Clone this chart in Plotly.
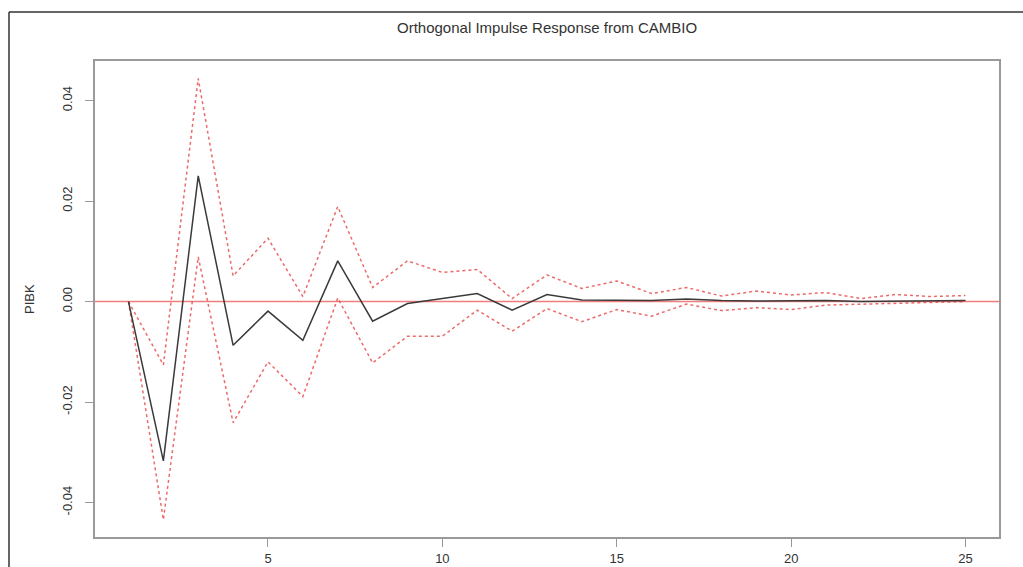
import plotly.graph_objects as go

# ---- data ----
horizon = list(range(1, 26))
irf = [0.0, -0.0317, 0.0250, -0.0087, -0.0019, -0.0077, 0.0081, -0.0039, -0.0004, 0.0006,
       0.0016, -0.0017, 0.0014, 0.0003, 0.0003, 0.0002, 0.0005, 0.0002, 0.0001, 0.0001,
       0.0002, 0.0000, 0.0001, 0.0001, 0.0002]
upper = [0.0, -0.0126, 0.0444, 0.0051, 0.0126, 0.0010, 0.0189, 0.0028, 0.0081, 0.0058,
         0.0064, 0.0006, 0.0053, 0.0026, 0.0041, 0.0016, 0.0028, 0.0011, 0.0021, 0.0013,
         0.0018, 0.0006, 0.0014, 0.0010, 0.0012]
lower = [0.0, -0.0434, 0.0089, -0.0241, -0.0120, -0.0189, 0.0007, -0.0122, -0.0069, -0.0069,
         -0.0017, -0.0059, -0.0014, -0.0040, -0.0016, -0.0029, -0.0005, -0.0018, -0.0012, -0.0016,
         -0.0007, -0.0005, -0.0004, -0.0002, 0.0000]
x_ticks = [5, 10, 15, 20, 25]
y_ticks = [-0.04, -0.02, 0.0, 0.02, 0.04]
y_ticktext = ["-0.04", "-0.02", "0.00", "0.02", "0.04"]
title_text = "Orthogonal Impulse Response from CAMBIO"
y_label = "PIBK"

W, H = 1023, 567
L, R, T, B = 95, 24, 61, 30
pw = W - L - R
PB = H - B          # pixel row of the bottom axis (537)
ph = PB - T

def px_x(p):
    return (p - L) / pw

def px_y(p):
    return (PB - p) / ph

FONT = "Liberation Sans, Arial, sans-serif"
red_band = "rgba(230,70,70,0.8)"

fig = go.Figure()
fig.add_trace(go.Scatter(x=horizon, y=upper, mode="lines",
                         line=dict(color=red_band, width=1.5, dash="3px,3px"),
                         showlegend=False, hoverinfo="skip"))
fig.add_trace(go.Scatter(x=horizon, y=lower, mode="lines",
                         line=dict(color=red_band, width=1.5, dash="3px,3px"),
                         showlegend=False, hoverinfo="skip"))
fig.add_trace(go.Scatter(x=horizon, y=irf, mode="lines",
                         line=dict(color="#3a3a3a", width=1.5),
                         showlegend=False))

# zero reference line across the full plot width
fig.add_hline(y=0, line=dict(color="rgba(240,110,110,0.9)", width=1.5), layer="below")

# outer frame (only top/left visible in the reference crop)
fig.add_shape(type="line", xref="paper", yref="paper",
              x0=px_x(9), x1=px_x(1030), y0=px_y(12), y1=px_y(12),
              line=dict(color="#333333", width=1.5))
fig.add_shape(type="line", xref="paper", yref="paper",
              x0=px_x(9), x1=px_x(9), y0=px_y(12), y1=px_y(590),
              line=dict(color="#333333", width=1.5))

fig.add_annotation(text=title_text, xref="paper", yref="paper",
                   x=0.5, y=px_y(27), showarrow=False,
                   xanchor="center", yanchor="middle",
                   font=dict(family=FONT, size=15, color="#333333"))
fig.add_annotation(text=y_label, xref="paper", yref="paper",
                   x=px_x(29), y=0.5, showarrow=False, textangle=-90,
                   xanchor="center", yanchor="middle",
                   font=dict(family=FONT, size=13, color="#333333"))

axis_common = dict(showline=True, mirror=True, linecolor="#9a9a9a", linewidth=1.8,
                   ticks="outside", ticklen=8, tickcolor="#9a9a9a", tickwidth=1.3,
                   showgrid=False, zeroline=False, automargin=False,
                   tickfont=dict(family=FONT, size=13, color="#333333"))

fig.update_xaxes(range=[0.04, 25.96], tickvals=x_ticks, **axis_common)
fig.update_yaxes(range=[-0.04685, 0.04787], tickvals=y_ticks, ticktext=y_ticktext,
                 tickangle=-90, ticklabelstandoff=8, **axis_common)

fig.update_layout(width=W, height=H, margin=dict(l=L, r=R, t=T, b=B, autoexpand=False),
                  plot_bgcolor="white", paper_bgcolor="white", autosize=False)

fig.write_html("out.html", config={"displayModeBar": False, "responsive": False},
               post_script="document.body.style.margin='0';document.body.style.overflow='hidden';")
